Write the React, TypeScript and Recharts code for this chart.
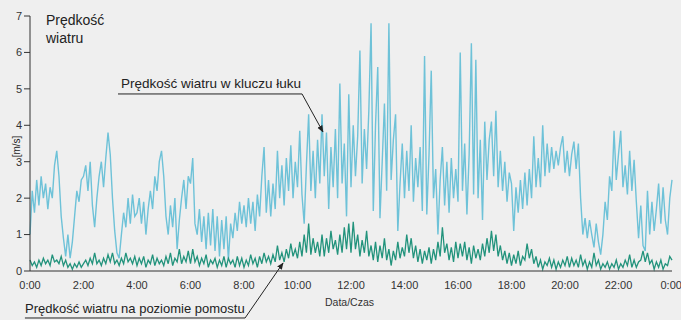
import { LineChart, Line, XAxis, YAxis, ReferenceLine } from "recharts";

// wind speed [m/s], one reading every 5 minutes, 0:00 -> 24:00
const archSpeed = [
  1.0, 2.2, 1.6, 2.5, 1.8, 2.6, 2.0, 2.4, 1.7, 2.3, 2.0, 2.9,
  3.3, 2.6, 1.5, 0.9, 0.4, 1.0, 0.35, 0.8, 1.5, 2.2, 1.9, 2.5,
  2.6, 2.9, 2.2, 3.0, 1.8, 1.2, 2.0, 2.6, 3.0, 2.3, 3.1, 3.8,
  3.2, 2.0, 1.1, 0.5, 0.35, 1.0, 1.6, 1.2, 2.0, 1.3, 2.1, 1.5,
  1.6, 2.0, 1.3, 1.9, 1.0, 1.7, 2.2, 1.7, 2.6, 2.2, 3.0, 3.3,
  2.6, 1.5, 1.0, 1.8, 1.2, 2.0, 0.6, 1.4, 2.0, 2.5, 1.7, 2.6,
  2.4, 3.1, 1.3, 1.0, 1.7, 0.8, 1.5, 0.6, 1.6, 0.7, 1.7, 0.55,
  1.5, 0.4, 1.4, 0.6, 1.5, 0.3, 1.3, 0.9, 1.6, 1.1, 1.9, 1.3,
  1.8, 1.2, 2.0, 1.3, 1.9, 1.1, 2.1, 1.5, 2.6, 3.4, 1.6, 2.5,
  1.5, 2.4, 1.7, 3.3, 2.0, 2.9, 1.8, 3.1, 2.2, 3.45, 2.0, 3.0,
  2.3, 3.85, 2.1, 1.3, 2.9, 4.3, 2.2, 3.3, 2.0, 3.6, 2.4, 4.3,
  2.6, 3.8, 1.7, 3.4, 2.3, 3.9, 2.0, 5.15, 2.4, 3.5, 1.5, 4.85,
  2.3, 4.0, 2.6, 3.7, 6.05, 2.4, 3.9, 2.8, 4.4, 6.8, 1.65, 4.0,
  5.6, 1.45, 3.0, 4.6, 2.2, 6.8, 2.5, 3.6, 4.3, 1.1, 2.4, 3.5,
  2.0, 3.3, 2.2, 4.0, 1.9, 3.1, 2.3, 3.4, 1.65, 5.9, 1.55, 3.2,
  5.5, 2.0, 2.8, 1.0, 2.5, 3.4, 1.8, 3.0, 1.6, 3.1, 2.0, 2.8,
  1.9, 6.0, 2.2, 3.5, 1.55, 3.2, 6.25, 2.1, 5.8, 2.0, 3.6, 1.4,
  4.1, 2.5, 3.6, 4.1, 2.6, 4.4, 2.3, 3.3, 2.2, 3.0, 1.9, 2.7,
  2.4, 1.1, 2.3, 1.6, 2.5, 1.7, 2.7, 1.8, 2.8, 2.0, 3.7, 2.3,
  3.1, 2.3, 4.0, 2.6, 3.5, 2.7, 3.4, 2.8, 3.3, 2.9, 3.4, 3.7,
  2.7, 3.3, 2.6, 3.2, 3.55, 2.8, 3.5, 2.0, 1.0, 1.45, 0.9, 1.4,
  1.0, 0.65, 1.3, 0.8, 0.45, 1.0, 1.9, 1.4, 2.6, 2.2, 3.85, 2.5,
  3.2, 3.85, 2.3, 2.9, 2.1, 3.3, 2.2, 3.05, 1.9, 0.9, 1.8, 0.7,
  0.55, 2.2, 1.0, 1.9, 1.1, 1.7, 2.4, 1.3, 2.3, 1.4, 1.0, 2.0,
  2.5,
];

const deckSpeed = [
  0.3, 0.15, 0.25, 0.1, 0.3, 0.15, 0.35, 0.2, 0.3, 0.15, 0.45, 0.25,
  0.3, 0.2, 0.4, 0.15, 0.3, 0.1, 0.2, 0.05, 0.2, 0.1, 0.25, 0.1,
  0.2, 0.3, 0.15, 0.35, 0.2, 0.5, 0.2, 0.3, 0.15, 0.35, 0.2, 0.45,
  0.25, 0.5, 0.2, 0.3, 0.15, 0.35, 0.2, 0.5, 0.25, 0.35, 0.2, 0.4,
  0.15, 0.35, 0.2, 0.4, 0.1, 0.3, 0.2, 0.45, 0.15, 0.35, 0.2, 0.3,
  0.15, 0.4, 0.2, 0.5, 0.15, 0.35, 0.25, 0.6, 0.2, 0.4, 0.25, 0.55,
  0.2, 0.6, 0.25, 0.4, 0.15, 0.35, 0.2, 0.45, 0.1, 0.3, 0.2, 0.35,
  0.1, 0.3, 0.15, 0.4, 0.1, 0.35, 0.2, 0.3, 0.1, 0.4, 0.15, 0.35,
  0.1, 0.3, 0.15, 0.45, 0.2, 0.35, 0.1, 0.4, 0.2, 0.5, 0.25, 0.4,
  0.2, 0.45, 0.25, 0.7, 0.3, 0.5, 0.25, 0.6, 0.35, 0.75, 0.4, 0.6,
  0.35, 0.8, 0.4, 1.0, 0.5, 1.3, 0.45, 0.9, 0.5, 0.8, 0.4, 1.0,
  0.4, 0.9, 0.5, 1.1, 0.6, 0.85, 0.45, 1.0, 0.5, 1.2, 0.6, 1.3,
  0.5, 1.35, 0.6, 1.0, 0.4, 0.85, 0.5, 1.1, 0.4, 0.7, 0.3, 0.8,
  0.25, 0.7, 0.35, 0.9, 0.3, 0.6, 0.15, 0.55, 0.3, 0.8, 0.35, 0.65,
  0.4, 1.0, 0.5, 0.9, 0.35, 0.7, 0.25, 0.6, 0.2, 0.55, 0.3, 0.65,
  0.2, 0.6, 0.3, 0.8, 0.4, 1.2, 0.5, 0.75, 0.3, 0.65, 0.25, 0.8,
  0.35, 0.75, 0.4, 0.8, 0.3, 0.65, 0.2, 0.7, 0.35, 0.6, 0.3, 0.75,
  0.4, 0.9, 0.5, 1.1, 0.55, 1.0, 0.4, 0.7, 0.3, 0.55, 0.2, 0.5,
  0.15, 0.45, 0.2, 0.55, 0.15, 0.4, 0.3, 0.75, 0.35, 0.6, 0.2, 0.4,
  0.1, 0.3, 0.05, 0.25, 0.15, 0.35, 0.1, 0.3, 0.05, 0.25, 0.1, 0.3,
  0.15, 0.4, 0.1, 0.35, 0.15, 0.3, 0.1, 0.45, 0.15, 0.3, 0.05, 0.25,
  0.1, 0.5, 0.15, 0.3, 0.05, 0.2, 0.1, 0.25, 0.05, 0.2, 0.1, 0.3,
  0.05, 0.2, 0.1, 0.3, 0.15, 0.45, 0.1, 0.3, 0.1, 0.25, 0.3, 0.55,
  0.25, 0.5, 0.2, 0.3, 0.05, 0.25, 0.1, 0.3, 0.05, 0.2, 0.15, 0.4,
  0.3,
];

const hourTicks = [0, 2, 4, 6, 8, 10, 12, 14, 16, 18, 20, 22, 24];
const timeLabels = ["0:00", "2:00", "4:00", "6:00", "8:00", "10:00", "12:00", "14:00", "16:00", "18:00", "20:00", "22:00", "0:00"];
const speedTicks = [0, 1, 2, 3, 4, 5, 6, 7];

const rows = archSpeed.map((v, i) => ({ hour: (i * 5) / 60, arch: v, deck: deckSpeed[i] }));

const BLUE = "#6ec2d8";
const GREEN = "#22937c";
const INK = "#222";

export default function App() {
  return (
    <div
      style={{
        position: "absolute",
        left: 0,
        top: 0,
        width: 681,
        height: 320,
        background: "#efefef",
        fontFamily: "'Liberation Sans', Arial, sans-serif",
        overflow: "hidden",
      }}
    >
      <LineChart width={681} height={320} data={rows} margin={{ top: 16, right: 9, bottom: 0, left: 0 }}>
        <defs>
          <marker id="tip" viewBox="0 0 10 10" refX="9" refY="5" markerWidth="7" markerHeight="7" orient="auto">
            <path d="M0,1 L10,5 L0,9 z" fill={INK} />
          </marker>
        </defs>
        <XAxis
          dataKey="hour"
          type="number"
          domain={[0, 24]}
          ticks={hourTicks}
          tickFormatter={(v) => timeLabels[hourTicks.indexOf(v)]}
          height={49}
          stroke="#333"
          tickLine={false}
          tickSize={8}
          tick={{ fill: "#333", fontSize: 11 }}
        />
        <YAxis
          domain={[0, 7]}
          ticks={speedTicks}
          width={30}
          stroke="#333"
          tickSize={6}
          tickMargin={2}
          tick={{ fill: "#333", fontSize: 11 }}
        />
        <Line type="linear" dataKey="arch" stroke={BLUE} strokeWidth={1.4} dot={false} isAnimationActive={false} />
        <Line type="linear" dataKey="deck" stroke={GREEN} strokeWidth={1.3} dot={false} isAnimationActive={false} />
        <ReferenceLine segment={[{ x: 3.29, y: 4.86 }, { x: 10.17, y: 4.86 }]} stroke={INK} strokeWidth={1} ifOverflow="visible" />
        <ReferenceLine segment={[{ x: 10.17, y: 4.86 }, { x: 10.95, y: 3.82 }]} stroke={INK} strokeWidth={1} markerEnd="url(#tip)" ifOverflow="visible" />
        <ReferenceLine segment={[{ x: -0.19, y: -1.29 }, { x: 8.04, y: -1.29 }]} stroke={INK} strokeWidth={1} ifOverflow="visible" />
        <ReferenceLine segment={[{ x: 8.04, y: -1.29 }, { x: 9.46, y: 0.22 }]} stroke={INK} strokeWidth={1} markerEnd="url(#tip)" ifOverflow="visible" />
      </LineChart>
      <div style={{ position: "absolute", left: 46, top: 11, fontSize: 14, lineHeight: "18px", color: INK }}>
        Prędkość
        <br />
        wiatru
      </div>
      <div style={{ position: "absolute", left: 6, top: 141, fontSize: 10, color: INK, transform: "rotate(-90deg)", transformOrigin: "center" }}>
        [m/s]
      </div>
      <div style={{ position: "absolute", left: 121, top: 76, fontSize: 13.5, color: INK, whiteSpace: "nowrap" }}>
        Prędkość wiatru w kluczu łuku
      </div>
      <div style={{ position: "absolute", left: 25, top: 301, fontSize: 13, color: INK, whiteSpace: "nowrap" }}>
        Prędkość wiatru na poziomie pomostu
      </div>
      <div style={{ position: "absolute", left: 325, top: 296, fontSize: 10.5, color: "#333" }}>Data/Czas</div>
    </div>
  );
}
